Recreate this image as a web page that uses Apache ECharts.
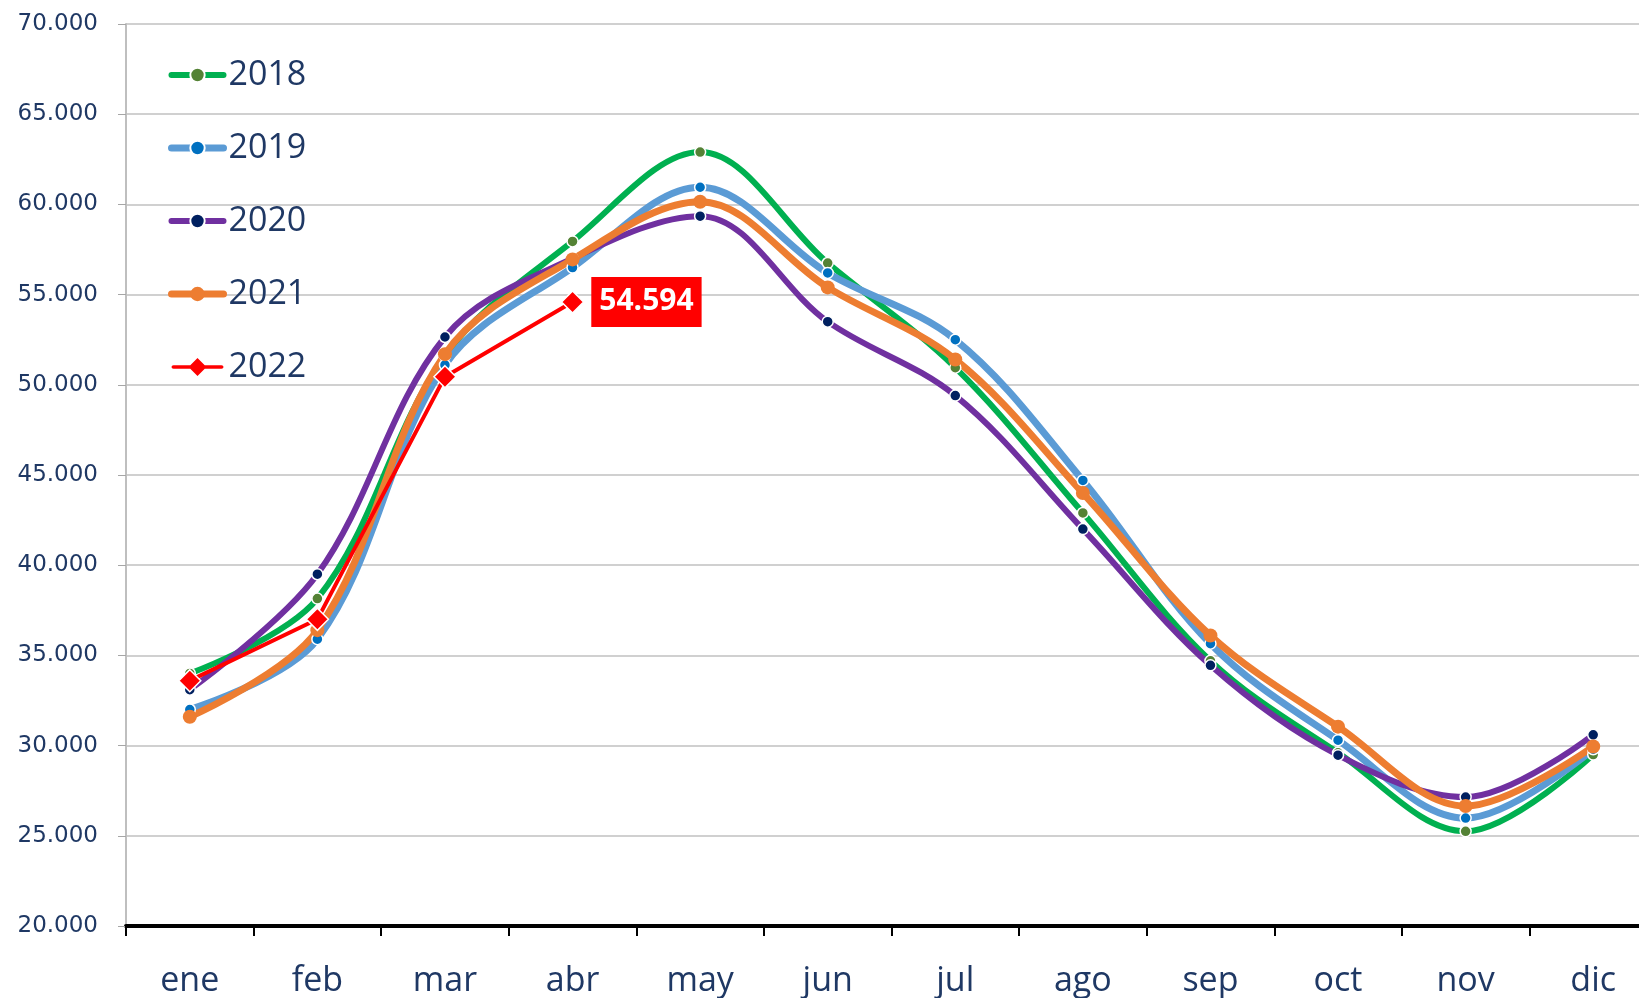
<!DOCTYPE html>
<html>
<head>
<meta charset="utf-8">
<script src="https://cdn.jsdelivr.net/npm/echarts@6/dist/echarts.min.js"></script>
<style>
html,body{margin:0;padding:0;background:#fff;overflow:hidden;width:1639px;height:998px;}
#chart{width:1657px;height:998px;}
</style>
</head>
<body>
<div id="chart"></div>
<script>
const categories = ['ene','feb','mar','abr','may','jun','jul','ago','sep','oct','nov','dic'];
const yTicks = [20000, 25000, 30000, 35000, 40000, 45000, 50000, 55000, 60000, 65000, 70000];
const s2018 = [34000, 38150, 51600, 57950, 62900, 56750, 50950, 42900, 34700, 29600, 25250, 29500];
const s2019 = [32000, 35900, 51100, 56500, 60950, 56200, 52500, 44700, 35650, 30300, 25980, 29800];
const s2020 = [33100, 39500, 52650, 57000, 59350, 53500, 49400, 42000, 34450, 29470, 27150, 30600];
const s2021 = [31600, 36400, 51700, 56950, 60150, 55400, 51400, 44000, 36100, 31050, 26650, 29950];
const s2022 = [33600, 37000, 50450, 54594];
const seriesNames = ['2018','2019','2020','2021','2022'];

const textColor = '#1F3864';
function fmt(v){ return v.toLocaleString('de-DE', {minimumFractionDigits:0}); }

const chart = echarts.init(document.getElementById('chart'));

function curve(name, data, lineColor, markColor, width, size, borderW) {
  return {
    name: name, type: 'line', data: data, smooth: 0.35,
    symbol: 'circle', symbolSize: size,
    lineStyle: {color: lineColor, width: width},
    itemStyle: {color: markColor, borderColor: '#fff', borderWidth: borderW},
    emphasis: {disabled: true}
  };
}

const lastIdx = s2022.length - 1;
const s2022Data = s2022.map((v, i) => i === lastIdx ? {
  value: v,
  label: {
    show: true, position: 'right', distance: 7,
    formatter: p => fmt(p.value),
    backgroundColor: '#FF0000', color: '#fff', fontWeight: 'bold',
    fontFamily: 'Open Sans', fontSize: 30, padding: [11, 8, 9, 8]
  }
} : v);

const legendWidths = {'2018': 6, '2019': 7, '2020': 6, '2021': 7, '2022': 4};
// line with large diamond for the 2022 legend entry (52 x 18 box)
const diamondIcon = 'path://M2 7.2 L20 7.2 L20 10.8 L2 10.8 Q0 10.8 0 9 Q0 7.2 2 7.2 Z M32 7.2 L50 7.2 Q52 7.2 52 9 Q52 10.8 50 10.8 L32 10.8 Z M26 0 L35 9 L26 18 L17 9 Z';

const option = {
  animation: false,
  grid: {left: 126, top: 24, bottom: 71, right: 0},
  legend: {
    left: 163, top: 50, orient: 'vertical',
    itemWidth: 52, itemHeight: 18, itemGap: 33,
    data: seriesNames.map(n => n === '2022'
      ? {name: n, icon: diamondIcon, itemStyle: {color: '#FF0000', borderWidth: 0}}
      : {name: n, lineStyle: {width: legendWidths[n], cap: 'round'}}),
    textStyle: {fontFamily: 'Open Sans', fontSize: 34, color: textColor, lineHeight: 40}
  },
  xAxis: {
    type: 'category', data: categories, boundaryGap: true,
    axisLine: {lineStyle: {color: '#000', width: 4}},
    axisTick: {show: true, length: 10, lineStyle: {color: '#000', width: 2}},
    axisLabel: {fontFamily: 'Open Sans', fontSize: 34, color: textColor, margin: 38},
    splitLine: {show: false}
  },
  yAxis: {
    type: 'value', min: yTicks[0], max: yTicks[yTicks.length-1], interval: 5000,
    axisLine: {show: true, lineStyle: {color: '#BFBFBF', width: 2}},
    axisTick: {show: true, length: 8, lineStyle: {color: '#A6A6A6', width: 1}},
    axisLabel: {fontFamily: 'DejaVu Sans', fontSize: 23, color: textColor, margin: 28,
      formatter: v => fmt(v)},
    splitLine: {lineStyle: {color: '#D0D0D0', width: 2}}
  },
  series: [
    curve('2018', s2018, '#00B050', '#548235', 6, 11, 1.5),
    curve('2019', s2019, '#5B9BD5', '#0070C0', 7, 11, 1.5),
    curve('2020', s2020, '#7030A0', '#002060', 6, 11, 1.5),
    curve('2021', s2021, '#ED7D31', '#ED7D31', 7, 14, 0),
    {
      name: '2022', type: 'line', data: s2022Data, smooth: false,
      symbol: 'diamond', symbolSize: 22,
      lineStyle: {color: '#FF0000', width: 4},
      itemStyle: {color: '#FF0000', borderColor: '#fff', borderWidth: 1.5},
      emphasis: {disabled: true}
    }
  ]
};
chart.setOption(option);
</script>
</body>
</html>
